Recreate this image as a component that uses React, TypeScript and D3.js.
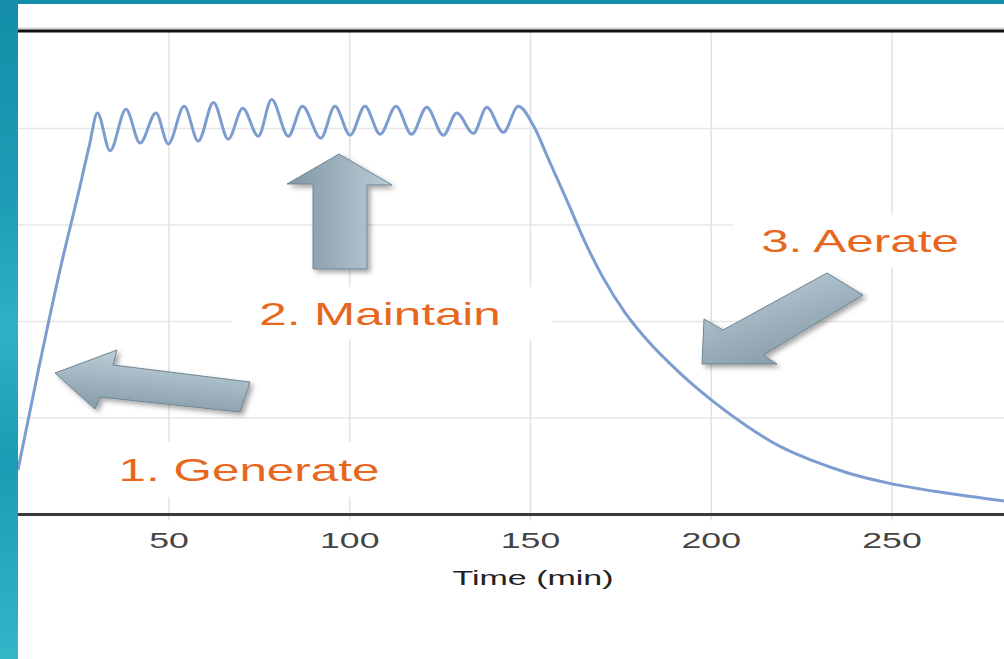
import React from "react";
import * as d3 from "d3";

// concentration curve (time in min, level in grid units)
const riseTime = [8.2, 14.0, 20.0, 25.0, 28.0];
const riseLevel = [4.6, 15.2, 25.6, 33.4, 38.3];

const holdTime = [
  30.2, 33.7, 38.1, 42.0, 46.4, 49.8, 54.2, 58.1, 62.3, 66.4, 70.4, 74.7, 78.4,
  83.0, 86.9, 92.0, 95.9, 100.1, 104.2, 108.4, 112.8, 117.1, 121.3, 125.9,
  129.6, 134.2, 137.9, 142.5, 146.6,
];
const holdLevel = [
  41.6, 37.7, 42.0, 38.5, 41.6, 38.4, 42.3, 38.7, 42.7, 38.9, 42.1, 39.2, 43.0,
  39.2, 42.3, 39.0, 42.3, 39.3, 42.3, 39.4, 42.3, 39.4, 42.2, 39.3, 41.6, 39.5,
  42.2, 39.6, 42.3,
];

const decayTime = [
  150.8, 155.0, 160.0, 165.0, 170.0, 176.0, 182.2, 191.5, 200.6, 210.1, 219.3,
  228.6, 237.8, 249.7, 265.5, 281.0,
];
const decayLevel = [
  40.3, 36.8, 32.6, 28.3, 24.6, 21.0, 18.1, 14.6, 11.7, 9.1, 7.0, 5.5, 4.3, 3.2,
  2.2, 1.4,
];

const xTicks = [50, 100, 150, 200, 250];
const yGrid = [10, 20, 30, 40];
const stepLabels = ["1. Generate", "2. Maintain", "3. Aerate"];

const W = 1004;
const H = 659;
const LEFT = 18;
const TOP = 4;
const STRETCH = 1.62;
const ORANGE = "#e8671e";

// slide overlay: label boxes and block arrows (pixels)
const labelLayout = [
  { cx: 249, base: 481, box: [95, 442, 310, 55] },
  { cx: 380, base: 325, box: [232, 287, 320, 53] },
  { cx: 860, base: 252, box: [733, 215, 290, 52] },
];

const arrows = [
  {
    pts: [[55, 373], [117, 350], [113, 365], [250, 382], [240, 412], [100, 397], [95, 409]],
    grad: { x1: 0.3, y1: 0, x2: 0, y2: 1 },
  },
  {
    pts: [[339, 154], [392, 185], [367, 185], [367, 269], [313, 269], [313, 184], [287, 184]],
    grad: { x1: 1, y1: 0, x2: 0, y2: 0 },
  },
  {
    pts: [[702, 364], [704, 319], [723, 330], [827, 273], [863, 295], [763, 355], [777, 364]],
    grad: { x1: 0.2, y1: 0, x2: 0.8, y2: 1 },
  },
];

export default function App() {
  const x = d3.scaleLinear().domain([0, 250]).range([-11.75, 892]);
  const y = d3.scaleLinear().domain([0, 50]).range([514.5, 32]);

  const points: [number, number][] = [
    ...d3.zip(riseTime, riseLevel),
    ...d3.zip(holdTime, holdLevel),
    ...d3.zip(decayTime, decayLevel),
  ] as [number, number][];

  const line = d3
    .line<[number, number]>()
    .x((d) => x(d[0]))
    .y((d) => y(d[1]))
    .curve(d3.curveMonotoneX);

  const font = "'Liberation Sans', Arial, sans-serif";

  return (
    <svg
      width={W}
      height={H}
      style={{ position: "absolute", left: 0, top: 0 }}
      fontFamily={font}
    >
      <defs>
        <linearGradient id="teal" x1="0" y1="0" x2="0" y2="1">
          <stop offset="0" stopColor="#148ea8" />
          <stop offset="0.3" stopColor="#1c9db5" />
          <stop offset="0.5" stopColor="#2eb2c5" />
          <stop offset="0.7" stopColor="#1a9cb4" />
          <stop offset="1" stopColor="#33b6c8" />
        </linearGradient>
        {arrows.map((a, i) => (
          <linearGradient
            key={i}
            id={`arrowFill${i}`}
            x1={a.grad.x1}
            y1={a.grad.y1}
            x2={a.grad.x2}
            y2={a.grad.y2}
          >
            <stop offset="0" stopColor="#bccdd7" />
            <stop offset="1" stopColor="#7f96a3" />
          </linearGradient>
        ))}
        <filter id="shadow" x="-20%" y="-20%" width="140%" height="140%">
          <feDropShadow dx="3" dy="3" stdDeviation="2.5" floodColor="#000" floodOpacity="0.35" />
        </filter>
        <clipPath id="plot">
          <rect x={LEFT} y={TOP} width={W - LEFT} height={H - TOP} />
        </clipPath>
      </defs>

      <rect x={0} y={0} width={W} height={H} fill="url(#teal)" />
      <rect x={LEFT} y={TOP} width={W - LEFT} height={H - TOP} fill="#fff" />

      <g clipPath="url(#plot)">
        {/* grid */}
        {yGrid.map((v) => (
          <line key={v} x1={LEFT} x2={W} y1={y(v)} y2={y(v)} stroke="#e6e6e6" strokeWidth={1.5} />
        ))}
        {xTicks.map((t) => (
          <line key={t} x1={x(t)} x2={x(t)} y1={y(50)} y2={y(0) + 6} stroke="#e2e2e2" strokeWidth={1.5} />
        ))}

        {/* white boxes behind the step labels */}
        {labelLayout.map((l, i) => (
          <rect key={i} x={l.box[0]} y={l.box[1]} width={l.box[2]} height={l.box[3]} fill="#fff" />
        ))}

        <path
          d={line(points) || ""}
          fill="none"
          stroke="#7d9dd0"
          strokeWidth={3}
          strokeLinejoin="round"
        />

        {/* frame lines */}
        <line x1={LEFT} x2={W} y1={y(50) - 3.5} y2={y(50) - 3.5} stroke="#d4d4d4" strokeWidth={2} />
        <line x1={LEFT} x2={W} y1={y(50) - 1} y2={y(50) - 1} stroke="#111" strokeWidth={3} />
        <line x1={LEFT} x2={W} y1={y(0)} y2={y(0)} stroke="#3a3a3a" strokeWidth={3} />
      </g>

      {/* tick labels */}
      {xTicks.map((t) => (
        <text
          key={t}
          transform={`translate(${x(t)},548) scale(${STRETCH},1)`}
          textAnchor="middle"
          fontSize={22}
          fill="#444"
        >
          {t}
        </text>
      ))}
      <text
        transform={`translate(533,585) scale(${STRETCH},1)`}
        textAnchor="middle"
        fontSize={21}
        fill="#222"
      >
        Time (min)
      </text>

      {/* step labels */}
      {stepLabels.map((s, i) => (
        <text
          key={s}
          transform={`translate(${labelLayout[i].cx},${labelLayout[i].base}) scale(${STRETCH},1)`}
          textAnchor="middle"
          fontSize={30.5}
          fill={ORANGE}
        >
          {s}
        </text>
      ))}

      {/* block arrows */}
      {arrows.map((a, i) => (
        <polygon
          key={i}
          points={a.pts.map((p) => p.join(",")).join(" ")}
          fill={`url(#arrowFill${i})`}
          stroke="#6f8593"
          strokeWidth={1}
          filter="url(#shadow)"
        />
      ))}
    </svg>
  );
}
